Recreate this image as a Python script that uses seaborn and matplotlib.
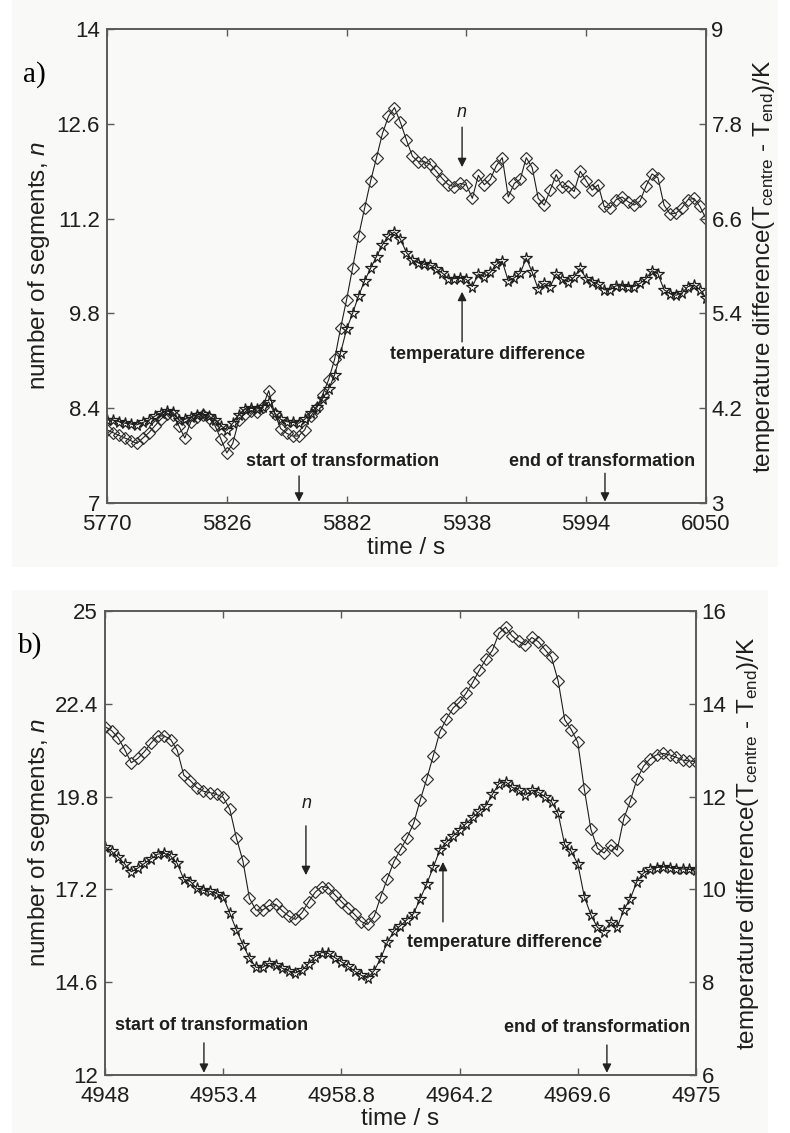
import numpy as np
import pandas as pd
import matplotlib
matplotlib.use("Agg")
import matplotlib.pyplot as plt
import seaborn as sns
from matplotlib.patches import Rectangle

# ---------------- data: panel a ----------------
time_a = np.linspace(5770, 6050, 101)          # sampling grid, s
n_a = [8.08, 8.04, 8.00, 7.96, 7.92, 7.88, 7.96, 8.04, 8.14, 8.24,
       8.32, 8.30, 8.14, 7.96, 8.20, 8.27, 8.30, 8.26, 8.15, 7.95,
       7.74, 7.88, 8.22, 8.32, 8.36, 8.34, 8.42, 8.66, 8.32, 8.10,
       8.03, 7.99, 7.99, 8.08, 8.28, 8.40, 8.60, 8.82, 9.12, 9.58,
       10.00, 10.47, 10.94, 11.35, 11.75, 12.10, 12.46, 12.71, 12.84, 12.62,
       12.36, 12.12, 12.04, 12.04, 12.00, 11.90, 11.79, 11.70, 11.67, 11.72,
       11.70, 11.50, 11.84, 11.70, 11.78, 11.98, 12.10, 11.52, 11.72, 11.78,
       12.10, 11.95, 11.50, 11.40, 11.62, 11.85, 11.66, 11.68, 11.60, 11.90,
       11.76, 11.62, 11.70, 11.38, 11.36, 11.48, 11.52, 11.45, 11.40, 11.46,
       11.68, 11.86, 11.80, 11.40, 11.27, 11.28, 11.36, 11.48, 11.50, 11.38,
       11.20]
dT_a = [4.05, 4.05, 4.03, 4.01, 4.00, 3.99, 4.02, 4.05, 4.10, 4.14,
        4.17, 4.15, 4.05, 4.06, 4.09, 4.12, 4.13, 4.10, 4.05, 3.98,
        3.92, 4.01, 4.12, 4.19, 4.20, 4.19, 4.22, 4.28, 4.14, 4.06,
        4.03, 4.02, 4.01, 4.06, 4.14, 4.22, 4.32, 4.44, 4.62, 4.90,
        5.20, 5.40, 5.62, 5.81, 5.97, 6.12, 6.27, 6.38, 6.43, 6.34,
        6.17, 6.07, 6.04, 6.02, 6.01, 5.96, 5.91, 5.84, 5.84, 5.85,
        5.83, 5.74, 5.90, 5.86, 5.92, 6.02, 6.06, 5.81, 5.85, 5.91,
        6.10, 5.92, 5.71, 5.78, 5.74, 5.90, 5.83, 5.80, 5.86, 5.97,
        5.84, 5.80, 5.77, 5.70, 5.70, 5.75, 5.75, 5.74, 5.74, 5.78,
        5.84, 5.94, 5.90, 5.70, 5.65, 5.63, 5.66, 5.74, 5.76, 5.70,
        5.60]
xticks_a = [5770, 5826, 5882, 5938, 5994, 6050]
xlabels_a = ["5770", "5826", "5882", "5938", "5994", "6050"]
yticks_a = [7, 8.4, 9.8, 11.2, 12.6, 14]
ylabels_a = ["7", "8.4", "9.8", "11.2", "12.6", "14"]
y2ticks_a = [3, 4.2, 5.4, 6.6, 7.8, 9]
y2labels_a = ["3", "4.2", "5.4", "6.6", "7.8", "9"]

# ---------------- data: panel b ----------------
time_b = np.linspace(4948, 4975, 91)           # sampling grid, s
n_b = [21.76, 21.65, 21.45, 21.12, 20.75, 20.87, 21.06, 21.30, 21.50, 21.50,
       21.40, 21.10, 20.40, 20.25, 20.05, 19.95, 19.91, 19.86, 19.78, 19.45,
       18.65, 18.00, 16.95, 16.62, 16.62, 16.75, 16.78, 16.60, 16.45, 16.36,
       16.55, 16.85, 17.12, 17.28, 17.25, 17.05, 16.86, 16.68, 16.50, 16.30,
       16.22, 16.45, 17.00, 17.50, 17.98, 18.32, 18.65, 19.05, 19.70, 20.30,
       20.95, 21.62, 21.98, 22.28, 22.45, 22.70, 23.00, 23.34, 23.65, 23.90,
       24.38, 24.55, 24.30, 24.15, 24.05, 24.26, 24.14, 23.92, 23.70, 23.05,
       21.96, 21.68, 21.32, 20.00, 18.88, 18.35, 18.22, 18.45, 18.30, 19.18,
       19.68, 20.28, 20.65, 20.86, 20.97, 21.01, 20.97, 20.90, 20.82, 20.80,
       20.78]
dT_b = [10.92, 10.82, 10.70, 10.55, 10.38, 10.46, 10.56, 10.66, 10.76, 10.78,
        10.72, 10.56, 10.22, 10.17, 10.02, 9.98, 9.96, 9.91, 9.84, 9.49,
        9.13, 8.81, 8.52, 8.32, 8.32, 8.41, 8.37, 8.30, 8.24, 8.20,
        8.26, 8.40, 8.55, 8.64, 8.62, 8.53, 8.44, 8.34, 8.24, 8.15,
        8.09, 8.25, 8.52, 8.86, 9.10, 9.22, 9.35, 9.48, 9.80, 10.12,
        10.48, 10.85, 11.02, 11.15, 11.28, 11.42, 11.55, 11.68, 11.80, 12.05,
        12.28, 12.32, 12.20, 12.14, 12.03, 12.14, 12.09, 12.00, 11.89, 11.64,
        10.97, 10.82, 10.55, 9.84, 9.45, 9.18, 9.09, 9.30, 9.18, 9.56,
        9.80, 10.17, 10.35, 10.43, 10.47, 10.49, 10.47, 10.45, 10.44, 10.43,
        10.42]
xticks_b = [4948, 4953.4, 4958.8, 4964.2, 4969.6, 4975]
xlabels_b = ["4948", "4953.4", "4958.8", "4964.2", "4969.6", "4975"]
yticks_b = [12, 14.6, 17.2, 19.8, 22.4, 25]
ylabels_b = ["12", "14.6", "17.2", "19.8", "22.4", "25"]
y2ticks_b = [6, 8, 10, 12, 14, 16]
y2labels_b = ["6", "8", "10", "12", "14", "16"]

# ---------------- style ----------------
sns.set_style("ticks")
plt.rcParams["font.family"] = ["Liberation Sans", "DejaVu Sans"]
plt.rcParams["mathtext.fontset"] = "custom"
plt.rcParams["mathtext.rm"] = "Liberation Sans"
plt.rcParams["mathtext.it"] = "Liberation Sans:italic"

BG = "#f9f9f7"
SPINE = "#5a5a5a"
INK = "#1e1e1e"

fig = plt.figure(figsize=(7.9, 11.33), dpi=100, facecolor="white")
fig.patches.append(Rectangle((0.015, 0.4996), 0.97, 0.5004, transform=fig.transFigure,
                             facecolor=BG, edgecolor="none", zorder=-10))
fig.patches.append(Rectangle((0.015, 0.0), 0.957, 0.4793, transform=fig.transFigure,
                             facecolor=BG, edgecolor="none", zorder=-10))

YLAB = "number of segments, $\\it{n}$"
Y2LAB = "temperature difference(T$_{\\mathrm{centre}}$ - T$_{\\mathrm{end}}$)/K"


def panel(rect, t, n, dT, xticks, xlabels, yticks, ylabels, y2ticks, y2labels,
          texts, arrows, lab_left, lab_right):
    ax = fig.add_axes(rect)
    ax.set_facecolor("none")
    ax2 = ax.twinx()
    ax2.set_facecolor("none")

    df = pd.DataFrame({"t": t, "n": n, "dT": dT})
    sns.lineplot(data=df, x="t", y="n", ax=ax, color=INK, linewidth=0.8,
                 marker="D", markersize=5.8, markerfacecolor="none",
                 markeredgecolor="#303030", markeredgewidth=0.85,
                 estimator=None, sort=False)
    sns.lineplot(data=df, x="t", y="dT", ax=ax2, color=INK, linewidth=0.8,
                 marker="*", markersize=8.5, markerfacecolor="none",
                 markeredgecolor="#1e1e1e", markeredgewidth=0.9,
                 estimator=None, sort=False)

    ax.set_xlim(xticks[0], xticks[-1])
    ax.set_ylim(yticks[0], yticks[-1])
    ax2.set_ylim(y2ticks[0], y2ticks[-1])
    ax.set_xticks(xticks)
    ax.set_xticklabels(xlabels)
    ax.set_yticks(yticks)
    ax.set_yticklabels(ylabels)
    ax2.set_yticks(y2ticks)
    ax2.set_yticklabels(y2labels)

    for a in (ax, ax2):
        for s in a.spines.values():
            s.set_visible(True)
            s.set_color(SPINE)
            s.set_linewidth(1.2)
    ax.tick_params(axis="both", direction="in", length=5, width=1, color=SPINE,
                   labelsize=16, labelcolor=INK, top=True, right=False)
    ax.tick_params(axis="y", pad=5)
    ax.tick_params(axis="x", pad=8)
    ax2.tick_params(axis="y", direction="in", length=5, width=1, color=SPINE,
                    labelsize=16, labelcolor=INK, pad=4)

    ax.set_xlabel("time / s", fontsize=17.5, color=INK, labelpad=1)
    ax.set_ylabel(YLAB, fontsize=17.5, color=INK)
    ax2.set_ylabel(Y2LAB, fontsize=17.5, color=INK)
    ax.yaxis.set_label_coords(lab_left, 0.5)
    ax2.yaxis.set_label_coords(lab_right, 0.5)

    for txt, x, y, italic in texts:
        if italic:
            ax.text(x, y, txt, ha="center", va="center", fontsize=13,
                    style="italic", color=INK)
        else:
            ax.text(x, y, txt, ha="center", va="center", fontsize=13,
                    fontweight="bold", color=INK)
    for x, y0, y1 in arrows:
        ax.annotate("", xy=(x, y1), xytext=(x, y0),
                    arrowprops=dict(arrowstyle="-|>", color="#222222", lw=1.0,
                                    mutation_scale=13, shrinkA=0, shrinkB=0))
    return ax, ax2


panel([0.1354, 0.5560, 0.7582, 0.4184], time_a, n_a, dT_a,
      xticks_a, xlabels_a, yticks_a, ylabels_a, y2ticks_a, y2labels_a,
      texts=[("n", 5936, 12.77, True),
             ("temperature difference", 5948.1, 9.19, False),
             ("start of transformation", 5879.9, 7.61, False),
             ("end of transformation", 6001.4, 7.61, False)],
      arrows=[(5936, 12.55, 11.96), (5936, 9.38, 10.12),
              (5859.8, 7.40, 7.02), (6002.8, 7.44, 7.02)],
      lab_left=-0.092, lab_right=1.075)

panel([0.1329, 0.0512, 0.7481, 0.4095], time_b, n_b, dT_b,
      xticks_b, xlabels_b, yticks_b, ylabels_b, y2ticks_b, y2labels_b,
      texts=[("n", 4957.23, 19.62, True),
             ("temperature difference", 4966.27, 15.70, False),
             ("start of transformation", 4952.89, 13.40, False),
             ("end of transformation", 4970.48, 13.32, False)],
      arrows=[(4957.18, 18.98, 17.60), (4963.44, 16.29, 17.97),
              (4952.52, 12.90, 12.06), (4970.93, 12.84, 12.06)],
      lab_left=-0.090, lab_right=1.066)

fig.text(0.043, 0.934, "a)", fontsize=21, family=["Liberation Serif", "DejaVu Serif"],
         ha="center", va="center", color="black")
fig.text(0.038, 0.430, "b)", fontsize=21, family=["Liberation Serif", "DejaVu Serif"],
         ha="center", va="center", color="black")

fig.savefig("out.png", dpi=100, facecolor=fig.get_facecolor())
